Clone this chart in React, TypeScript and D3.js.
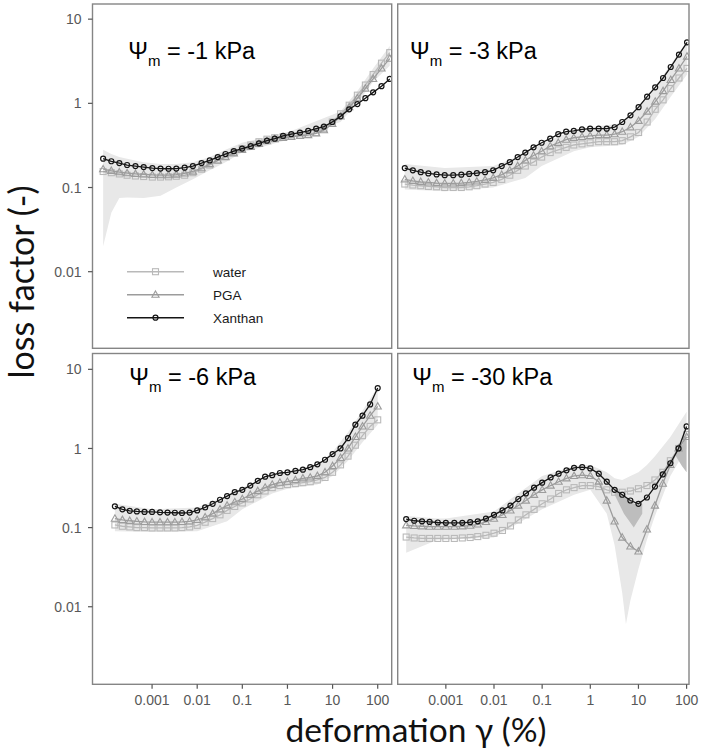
import React from "react";
import * as d3 from "d3";

// strain amplitudes of the sweep (%)
const strain = [
  0.00015, 0.00022, 0.00032, 0.00046, 0.00068,
  0.001, 0.0015, 0.0022, 0.0032, 0.0046, 0.0068,
  0.01, 0.015, 0.022, 0.032, 0.046, 0.068,
  0.1, 0.15, 0.22, 0.32, 0.46, 0.68,
  1, 1.5, 2.2, 3.2, 4.6, 6.8,
  10, 15, 22, 32, 46, 68,
  100,
];

// -1 kPa
const waterTL = [0.155, 0.15, 0.145, 0.14, 0.137, 0.135, 0.133, 0.133, 0.134, 0.136, 0.14, 0.15, 0.165, 0.185, 0.21, 0.235, 0.26, 0.29, 0.32, 0.35, 0.375, 0.39, 0.4, 0.41, 0.42, 0.43, 0.45, 0.5, 0.6, 0.75, 0.95, 1.25, 1.65, 2.2, 3.0, 4.0];
const pgaTL = [0.165, 0.158, 0.152, 0.148, 0.145, 0.143, 0.141, 0.14, 0.14, 0.142, 0.147, 0.155, 0.17, 0.19, 0.21, 0.23, 0.255, 0.28, 0.305, 0.33, 0.355, 0.375, 0.39, 0.4, 0.41, 0.42, 0.44, 0.48, 0.57, 0.7, 0.9, 1.15, 1.5, 1.95, 2.6, 3.4];
const xanthanTL = [0.22, 0.205, 0.195, 0.185, 0.18, 0.175, 0.17, 0.168, 0.167, 0.168, 0.172, 0.18, 0.195, 0.21, 0.23, 0.25, 0.27, 0.29, 0.31, 0.335, 0.36, 0.38, 0.41, 0.43, 0.45, 0.47, 0.5, 0.53, 0.6, 0.7, 0.85, 0.98, 1.15, 1.35, 1.6, 1.95];

// -3 kPa
const waterTR = [0.11, 0.107, 0.105, 0.103, 0.102, 0.1, 0.1, 0.1, 0.102, 0.105, 0.11, 0.115, 0.125, 0.14, 0.16, 0.18, 0.2, 0.23, 0.26, 0.28, 0.3, 0.32, 0.33, 0.34, 0.35, 0.35, 0.35, 0.36, 0.4, 0.45, 0.6, 0.85, 1.1, 1.5, 2.0, 2.6];
const pgaTR = [0.125, 0.12, 0.117, 0.115, 0.113, 0.112, 0.112, 0.113, 0.115, 0.118, 0.123, 0.13, 0.142, 0.16, 0.18, 0.21, 0.24, 0.27, 0.31, 0.34, 0.37, 0.39, 0.4, 0.41, 0.42, 0.42, 0.43, 0.46, 0.52, 0.62, 0.8, 1.05, 1.4, 1.9, 2.6, 3.6];
const xanthanTR = [0.17, 0.16, 0.152, 0.147, 0.143, 0.14, 0.14, 0.142, 0.145, 0.148, 0.152, 0.16, 0.18, 0.2, 0.23, 0.26, 0.3, 0.34, 0.38, 0.43, 0.46, 0.47, 0.49, 0.5, 0.5, 0.5, 0.52, 0.6, 0.72, 0.9, 1.2, 1.55, 2.0, 2.7, 3.8, 5.3];

// -6 kPa
const waterBL = [0.108, 0.104, 0.102, 0.1, 0.1, 0.099, 0.099, 0.099, 0.099, 0.1, 0.102, 0.107, 0.117, 0.13, 0.145, 0.165, 0.185, 0.205, 0.23, 0.26, 0.29, 0.32, 0.34, 0.35, 0.36, 0.37, 0.38, 0.4, 0.43, 0.5, 0.62, 0.8, 1.1, 1.45, 1.9, 2.3];
const pgaBL = [0.13, 0.125, 0.122, 0.12, 0.118, 0.117, 0.117, 0.117, 0.117, 0.118, 0.12, 0.125, 0.135, 0.15, 0.17, 0.19, 0.21, 0.23, 0.26, 0.29, 0.32, 0.35, 0.37, 0.38, 0.4, 0.42, 0.43, 0.45, 0.5, 0.6, 0.76, 1.0, 1.4, 1.9, 2.6, 3.4];
const xanthanBL = [0.186, 0.17, 0.163, 0.16, 0.158, 0.158, 0.156, 0.155, 0.154, 0.153, 0.155, 0.165, 0.18, 0.2, 0.225, 0.25, 0.28, 0.3, 0.34, 0.39, 0.44, 0.46, 0.49, 0.5, 0.52, 0.54, 0.58, 0.63, 0.72, 0.85, 1.0, 1.35, 2.0, 2.6, 3.6, 5.8];

// -30 kPa
const waterBR = [0.076, 0.074, 0.073, 0.073, 0.073, 0.073, 0.073, 0.074, 0.075, 0.077, 0.08, 0.085, 0.092, 0.105, 0.125, 0.145, 0.17, 0.2, 0.23, 0.27, 0.3, 0.32, 0.34, 0.34, 0.33, 0.3, 0.28, 0.28, 0.29, 0.31, 0.34, 0.4, 0.5, 0.7, 1.0, 1.5];
const pgaBR = [0.107, 0.105, 0.104, 0.103, 0.103, 0.103, 0.103, 0.104, 0.106, 0.11, 0.118, 0.13, 0.145, 0.165, 0.19, 0.22, 0.26, 0.3, 0.34, 0.38, 0.42, 0.45, 0.46, 0.45, 0.38, 0.22, 0.12, 0.075, 0.058, 0.05, 0.095, 0.19, 0.36, 0.62, 1.0, 1.4];
const xanthanBR = [0.128, 0.122, 0.12, 0.118, 0.116, 0.115, 0.115, 0.115, 0.117, 0.12, 0.13, 0.145, 0.165, 0.19, 0.23, 0.27, 0.32, 0.37, 0.43, 0.48, 0.53, 0.57, 0.58, 0.56, 0.48, 0.38, 0.3, 0.26, 0.22, 0.2, 0.24, 0.33, 0.47, 0.65, 1.0, 1.9];

// spread bands (min / max over replicates)
const bandTLx = [0.00015, 0.00022, 0.00032, 0.00046, 0.001, 0.0022, 0.0046, 0.01, 0.022, 0.046, 0.1, 1, 10, 22, 46, 100];
const bandTLlo = [0.02, 0.05, 0.075, 0.076, 0.075, 0.08, 0.1, 0.125, 0.16, 0.2, 0.26, 0.38, 0.6, 1.0, 1.8, 2.8];
const bandTLhi = [0.28, 0.25, 0.23, 0.22, 0.2, 0.19, 0.19, 0.2, 0.23, 0.28, 0.34, 0.47, 0.8, 1.4, 2.6, 4.8];

const bandTRx = [0.00015, 0.001, 0.01, 0.046, 0.1, 0.46, 1, 4.6, 10, 22, 46, 100];
const bandTRlo = [0.095, 0.09, 0.1, 0.13, 0.18, 0.27, 0.3, 0.32, 0.4, 0.65, 1.2, 2.2];
const bandTRhi = [0.19, 0.17, 0.18, 0.25, 0.33, 0.48, 0.52, 0.58, 0.95, 1.6, 2.9, 5.5];

const bandBLx = [0.00015, 0.001, 0.01, 0.046, 0.1, 0.46, 1, 4.6, 10, 22, 46, 100];
const bandBLlo = [0.09, 0.088, 0.09, 0.12, 0.17, 0.27, 0.31, 0.35, 0.45, 0.7, 1.2, 2.0];
const bandBLhi = [0.2, 0.17, 0.18, 0.25, 0.32, 0.47, 0.52, 0.62, 0.9, 1.6, 3.0, 6.0];

const bandBRx = [0.00015, 0.00068, 0.001, 0.01, 0.1, 0.46, 1, 2.2, 3.2, 4.6, 5.5, 6.8, 10, 15, 22, 46, 100];
const bandBRlo = [0.048, 0.07, 0.07, 0.075, 0.17, 0.26, 0.3, 0.15, 0.06, 0.015, 0.006, 0.012, 0.03, 0.07, 0.14, 0.45, 1.0];
const bandBRhi = [0.14, 0.13, 0.13, 0.16, 0.45, 0.6, 0.62, 0.5, 0.42, 0.4, 0.42, 0.45, 0.5, 0.62, 0.8, 1.4, 2.9];

const bandBR2x = [3.2, 5, 8, 12];
const bandBR2lo = [0.26, 0.15, 0.1, 0.15];
const bandBR2hi = [0.3, 0.26, 0.2, 0.2];

const bandBR3x = [60, 80, 100];
const bandBR3lo = [0.8, 0.6, 0.5];
const bandBR3hi = [0.9, 1.1, 1.4];

const treatments = ["water", "PGA", "Xanthan"];
const panelLabels = ["-1 kPa", "-3 kPa", "-6 kPa", "-30 kPa"];
const yTicks = [0.01, 0.1, 1, 10];
const yTickLabels = ["0.01", "0.1", "1", "10"];
const xTicks = [0.001, 0.01, 0.1, 1, 10, 100];
const xTickLabels = ["0.001", "0.01", "0.1", "1", "10", "100"];

const W = 702;
const H = 749;
const FONT = "'Liberation Sans', Arial, sans-serif";
const TITLE_FONT = "Lato, 'Open Sans', sans-serif";

const styles: Record<string, { stroke: string; marker: string }> = {
  water: { stroke: "#b9b9b9", marker: "square" },
  PGA: { stroke: "#9c9c9c", marker: "triangle" },
  Xanthan: { stroke: "#151515", marker: "circle" },
};

type Band = { x: number[]; lo: number[]; hi: number[]; fill: string };

const panels = [
  {
    x0: 92.5, x1: 391.7, y0: 4, y1: 348.3, xd: [-4.04, 2.04], yd: [-2.91, 1.18],
    label: panelLabels[0], tx: 128.3, ty: 59.3, yAxis: true, xAxis: false, legend: true,
    series: [waterTL, pgaTL, xanthanTL],
    bands: [{ x: bandTLx, lo: bandTLlo, hi: bandTLhi, fill: "#e8e8e8" }] as Band[],
  },
  {
    x0: 397.7, x1: 689, y0: 4, y1: 348.3, xd: [-3.97, 2.04], yd: [-2.91, 1.18],
    label: panelLabels[1], tx: 410, ty: 59.3, yAxis: false, xAxis: false, legend: false,
    series: [waterTR, pgaTR, xanthanTR],
    bands: [{ x: bandTRx, lo: bandTRlo, hi: bandTRhi, fill: "#e8e8e8" }] as Band[],
  },
  {
    x0: 92.5, x1: 391.7, y0: 353.5, y1: 684.3, xd: [-4.32, 2.31], yd: [-2.98, 1.2],
    label: panelLabels[2], tx: 129.3, ty: 385, yAxis: true, xAxis: true, legend: false,
    series: [waterBL, pgaBL, xanthanBL],
    bands: [{ x: bandBLx, lo: bandBLlo, hi: bandBLhi, fill: "#e8e8e8" }] as Band[],
  },
  {
    x0: 397.7, x1: 689, y0: 353.5, y1: 684.3, xd: [-4.0, 2.05], yd: [-2.98, 1.2],
    label: panelLabels[3], tx: 412.3, ty: 385, yAxis: false, xAxis: true, legend: false,
    series: [waterBR, pgaBR, xanthanBR],
    bands: [
      { x: bandBRx, lo: bandBRlo, hi: bandBRhi, fill: "#e8e8e8" },
      { x: bandBR2x, lo: bandBR2lo, hi: bandBR2hi, fill: "#bdbdbd" },
      { x: bandBR3x, lo: bandBR3lo, hi: bandBR3hi, fill: "#bdbdbd" },
    ] as Band[],
  },
];

function Marker({ kind, x, y, color }: { kind: string; x: number; y: number; color: string }) {
  if (kind === "square")
    return <rect x={x - 3} y={y - 3} width={6} height={6} fill="none" stroke={color} strokeWidth={1.1} />;
  if (kind === "triangle")
    return (
      <path
        d={`M${x},${y - 3.8}L${x + 3.6},${y + 2.6}L${x - 3.6},${y + 2.6}Z`}
        fill="none"
        stroke={color}
        strokeWidth={1.1}
      />
    );
  return <circle cx={x} cy={y} r={2.5} fill="none" stroke={color} strokeWidth={1.2} />;
}

function Panel({ p, idx }: { p: (typeof panels)[number]; idx: number }) {
  const x = d3.scaleLog().domain([10 ** p.xd[0], 10 ** p.xd[1]]).range([p.x0, p.x1]);
  const y = d3.scaleLog().domain([10 ** p.yd[0], 10 ** p.yd[1]]).range([p.y1, p.y0]);
  const line = d3
    .line<number>()
    .x((_, i) => x(strain[i]))
    .y((d) => y(d));
  const clipId = `clip${idx}`;

  return (
    <g>
      <defs>
        <clipPath id={clipId}>
          <rect x={p.x0} y={p.y0} width={p.x1 - p.x0} height={p.y1 - p.y0} />
        </clipPath>
      </defs>
      <g clipPath={`url(#${clipId})`}>
        {p.bands.map((b, bi) => {
          const area = d3
            .area<number>()
            .x((_, i) => x(b.x[i]))
            .y0((_, i) => y(b.lo[i]))
            .y1((_, i) => y(b.hi[i]));
          return <path key={bi} d={area(b.lo) || ""} fill={b.fill} stroke="none" />;
        })}
        {p.series.map((vals, si) => {
          const st = styles[treatments[si]];
          return (
            <g key={si}>
              <path d={line(vals) || ""} fill="none" stroke={st.stroke} strokeWidth={1.3} />
              {vals.map((v, i) => (
                <Marker key={i} kind={st.marker} x={x(strain[i])} y={y(v)} color={st.stroke} />
              ))}
            </g>
          );
        })}
      </g>
      <rect
        x={p.x0}
        y={p.y0}
        width={p.x1 - p.x0}
        height={p.y1 - p.y0}
        fill="none"
        stroke="#858585"
        strokeWidth={1.4}
      />
      <text x={p.tx} y={p.ty} fontFamily={FONT} fontSize={23.5} fill="#000">
        Ψ
        <tspan fontSize={15} dy={7}>m</tspan>
        <tspan dy={-7}> = {p.label}</tspan>
      </text>
      {p.yAxis &&
        yTicks.map((t, i) => (
          <g key={t}>
            <line x1={p.x0 - 4.5} x2={p.x0} y1={y(t)} y2={y(t)} stroke="#555" strokeWidth={1.2} />
            <text
              x={p.x0 - 11}
              y={y(t)}
              dy="0.36em"
              textAnchor="end"
              fontFamily={FONT}
              fontSize={14}
              fill="#585858"
            >
              {yTickLabels[i]}
            </text>
          </g>
        ))}
      {p.xAxis &&
        xTicks.map((t, i) => (
          <g key={t}>
            <line x1={x(t)} x2={x(t)} y1={p.y1} y2={p.y1 + 4.5} stroke="#555" strokeWidth={1.2} />
            <text x={x(t)} y={705} textAnchor="middle" fontFamily={FONT} fontSize={14} fill="#585858">
              {xTickLabels[i]}
            </text>
          </g>
        ))}
      {p.legend &&
        treatments.map((t, i) => {
          const ly = 271.7 + i * 23;
          const st = styles[t];
          return (
            <g key={t}>
              <line x1={127} x2={184} y1={ly} y2={ly} stroke={st.stroke} strokeWidth={1.4} />
              <Marker kind={st.marker} x={155.5} y={ly} color={st.stroke} />
              <text x={213} y={ly + 5} fontFamily={FONT} fontSize={13.5} fill="#1a1a1a">
                {t}
              </text>
            </g>
          );
        })}
    </g>
  );
}

export default function App() {
  return (
    <svg
      width={W}
      height={H}
      viewBox={`0 0 ${W} ${H}`}
      style={{ position: "absolute", left: 0, top: 0, background: "#fff" }}
    >
      <rect width={W} height={H} fill="#fff" />
      {panels.map((p, i) => (
        <Panel key={i} p={p} idx={i} />
      ))}
      <text
        transform={`translate(34,282) rotate(-90)`}
        textAnchor="middle"
        fontFamily={TITLE_FONT}
        fontSize={34}
        fill="#111"
      >
        loss factor (-)
      </text>
      <text x={416} y={741.5} textAnchor="middle" fontFamily={TITLE_FONT} fontSize={33.5} fill="#111">
        deformation γ (%)
      </text>
    </svg>
  );
}
